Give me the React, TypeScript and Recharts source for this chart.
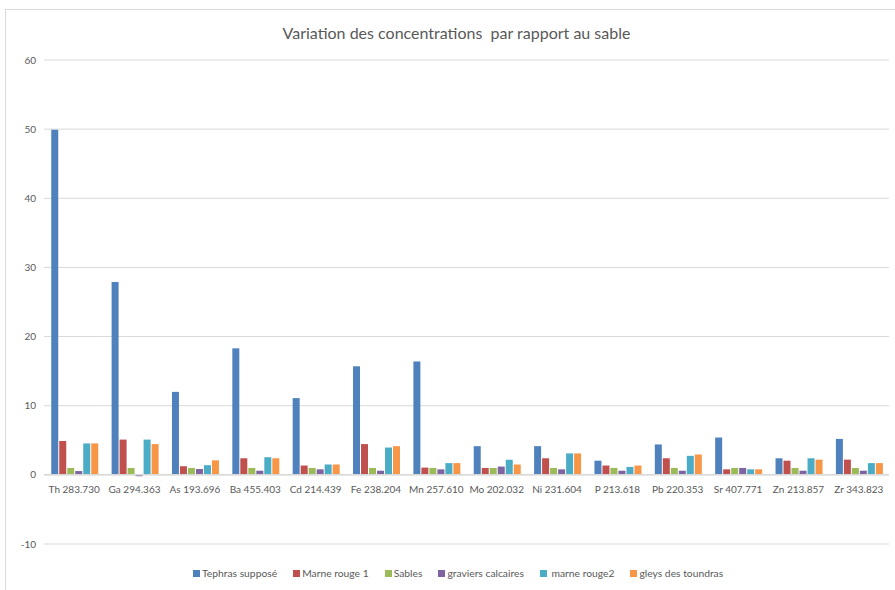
import React from "react";
import { Bar, BarChart, CartesianGrid, Legend, ReferenceLine, XAxis, YAxis } from "recharts";

const categories = [
  "Th 283.730", "Ga 294.363", "As 193.696", "Ba 455.403", "Cd 214.439", "Fe 238.204", "Mn 257.610",
  "Mo 202.032", "Ni 231.604", "P 213.618", "Pb 220.353", "Sr 407.771", "Zn 213.857", "Zr 343.823",
];

const tephras = [49.9, 27.9, 12.0, 18.3, 11.1, 15.7, 16.4, 4.15, 4.15, 2.05, 4.4, 5.4, 2.4, 5.2];
const marneRouge1 = [4.9, 5.1, 1.25, 2.4, 1.35, 4.45, 1.05, 1.0, 2.4, 1.35, 2.4, 0.8, 2.05, 2.2];
const sables = [1.0, 1.0, 1.0, 1.0, 1.0, 1.0, 1.0, 1.0, 1.0, 1.0, 1.0, 1.0, 1.0, 1.0];
const graviers = [0.55, -0.2, 0.85, 0.6, 0.8, 0.6, 0.8, 1.2, 0.8, 0.6, 0.6, 1.0, 0.6, 0.6];
const marneRouge2 = [4.55, 5.1, 1.4, 2.55, 1.5, 3.95, 1.7, 2.2, 3.1, 1.15, 2.75, 0.8, 2.4, 1.7];
const gleys = [4.55, 4.45, 2.1, 2.4, 1.5, 4.15, 1.7, 1.5, 3.1, 1.35, 2.95, 0.8, 2.2, 1.7];

const yTicks = [-10, 0, 10, 20, 30, 40, 50, 60];

const seriesList = [
  { key: "tephras", name: "Tephras supposé", color: "#4F81BD", values: tephras },
  { key: "marne1", name: "Marne rouge 1", color: "#C0504D", values: marneRouge1 },
  { key: "sables", name: "Sables", color: "#9BBB59", values: sables },
  { key: "graviers", name: "graviers calcaires", color: "#8064A2", values: graviers },
  { key: "marne2", name: " marne rouge2", color: "#4BACC6", values: marneRouge2 },
  { key: "gleys", name: "gleys des toundras", color: "#F79646", values: gleys },
];

const data = categories.map((cat, i) => {
  const row: Record<string, string | number> = { name: cat };
  seriesList.forEach((s) => {
    row[s.key] = s.values[i];
  });
  return row;
});

const FONT = "Lato, 'Open Sans', sans-serif";
const ZERO_SHIFT = 69;

function CategoryTick({ x, y, payload }: any) {
  return (
    <text x={x} y={y - ZERO_SHIFT} dy={10} textAnchor="middle" fill="#595959" fontSize={10} fontFamily={FONT}>
      {payload.value}
    </text>
  );
}

function LegendContent() {
  return (
    <div
      style={{
        display: "flex",
        alignItems: "center",
        height: 12,
        marginTop: -3,
        paddingLeft: 193,
        gap: 16,
        fontFamily: FONT,
        fontSize: 10.3,
        color: "#595959",
      }}
    >
      {seriesList.map((s) => (
        <span key={s.key} style={{ display: "inline-flex", alignItems: "center", whiteSpace: "pre" }}>
          <span style={{ width: 7, height: 7, background: s.color, marginRight: 2, display: "inline-block" }} />
          {s.name}
        </span>
      ))}
    </div>
  );
}

export default function App() {
  return (
    <div style={{ position: "absolute", left: 0, top: 0, width: 895, height: 590, background: "#fff", overflow: "hidden" }}>
      <div
        style={{
          position: "absolute",
          left: 5,
          top: 9,
          width: 900,
          height: 600,
          borderLeft: "1px solid #d9d9d9",
          borderTop: "1px solid #d9d9d9",
        }}
      />
      <div
        style={{
          position: "absolute",
          top: 23,
          left: 0,
          width: 913,
          textAlign: "center",
          fontFamily: FONT,
          fontSize: 16,
          color: "#595959",
          whiteSpace: "pre",
        }}
      >
        Variation des concentrations  par rapport au sable
      </div>
      <div style={{ position: "absolute", left: 0, top: 0 }}>
        <BarChart
          width={895}
          height={590}
          data={data}
          margin={{ top: 60, right: 6, bottom: 0, left: 0 }}
          barCategoryGap="12%"
          barGap={1}
        >
          <CartesianGrid vertical={false} stroke="#d9d9d9" />
          <YAxis
            width={44}
            domain={[-10, 60]}
            ticks={yTicks}
            axisLine={false}
            tickLine={false}
            tick={{ fill: "#595959", fontSize: 10, fontFamily: FONT }}
            interval={0}
          />
          <XAxis
            dataKey="name"
            height={26}
            axisLine={false}
            tickLine={false}
            interval={0}
            tick={<CategoryTick />}
          />
          <ReferenceLine y={0} stroke="#d9d9d9" strokeWidth={1.5} />
          <Legend content={<LegendContent />} verticalAlign="bottom" height={20} />
          {seriesList.map((s) => (
            <Bar key={s.key} dataKey={s.key} name={s.name} fill={s.color} isAnimationActive={false} />
          ))}
        </BarChart>
      </div>
    </div>
  );
}
